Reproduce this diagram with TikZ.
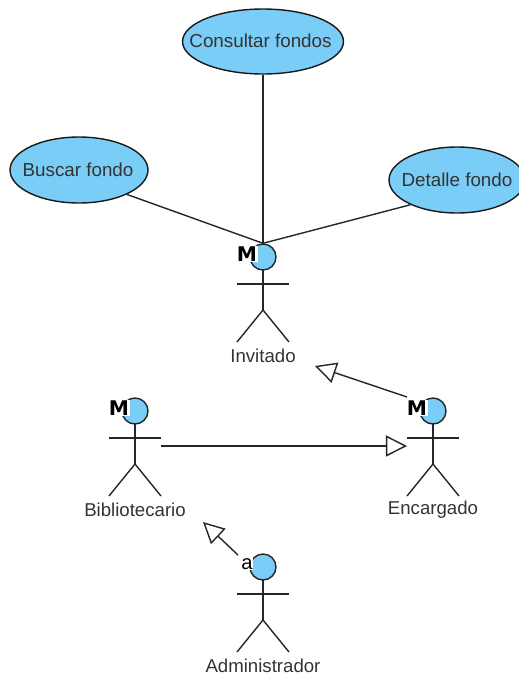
\documentclass[tikz,border=0pt]{standalone}
\usepackage{fontspec}
\setmainfont{Liberation Sans}
\newfontfamily\badgefont{DejaVu Sans}
\usetikzlibrary{shapes.geometric,arrows.meta}
\definecolor{usecaseblue}{HTML}{7ACDF6}
\definecolor{labelgray}{HTML}{333333}
\tikzset{
    usecase/.style={draw=black!90,fill=usecaseblue,ellipse,line width=0.8pt,inner sep=0pt},
    usecasetext/.style={font=\fontsize{10.7}{12}\selectfont,text=labelgray,inner sep=0pt},
    actorhead/.style={circle,draw=black!85,fill=usecaseblue,line width=0.8pt,minimum size=0.52cm,inner sep=0pt},
    actorline/.style={draw=black!85,line width=0.8pt},
    actorlabel/.style={font=\fontsize{10.6}{12}\selectfont,text=labelgray,inner sep=0pt},
    badge/.style={font=\fontsize{11.5}{12}\selectfont,inner sep=0.4pt,fill=white},
    assoc/.style={draw=black!85,line width=0.8pt},
    general/.style={draw=black!85,line width=0.8pt,-{Triangle[open,length=12pt,width=12pt,fill=white]}}
}
% actor: name, head x, head y, label, badge
\newcommand{\actor}[5]{
    \node[actorhead] (#1Head) at (#2,#3) {};
    \node[badge] (#1Badge) at (#2-16,#3-3) {#5};
    \coordinate (#1Neck) at (#2,#3+13);
    \coordinate (#1Arml) at (#2-26,#3+27);
    \coordinate (#1Armr) at (#2+26,#3+27);
    \coordinate (#1Hip) at (#2,#3+53);
    \coordinate (#1Footl) at (#2-26,#3+85);
    \coordinate (#1Footr) at (#2+26,#3+85);
    \draw[actorline] (#1Neck) -- (#1Hip);
    \draw[actorline] (#1Arml) -- (#1Armr);
    \draw[actorline] (#1Footl) -- (#1Hip) -- (#1Footr);
    \node[actorlabel] (#1Label) at (#2,#3+99) {#4};
}
\begin{document}
\begin{tikzpicture}[x=0.02cm,y=-0.02cm]
    \useasboundingbox (0,0) rectangle (518,677);

    % Use cases
    \node[usecase,minimum width=3.22cm,minimum height=1.3cm] (consultar) at (263,41.5) {};
    \node[usecase,minimum width=2.76cm,minimum height=1.32cm] (buscar) at (79,170) {};
    \node[usecase,minimum width=2.72cm,minimum height=1.32cm] (detalle) at (457,180) {};
    \node[usecasetext] (consultarText) at (260.5,41) {Consultar fondos};
    \node[usecasetext] (buscarText) at (78,170) {Buscar fondo};
    \node[usecasetext] (detalleText) at (457,180) {Detalle fondo};

    % Free ends of the generalizations
    \coordinate (encargadoOut) at (407,397);
    \coordinate (invitadoIn) at (315,366);
    \coordinate (bibliotecarioOut) at (161,446);
    \coordinate (encargadoIn) at (407,446);
    \coordinate (administradorOut) at (238,555);
    \coordinate (bibliotecarioIn) at (203,522);

    % Actors
    \actor{invitado}{263}{257}{Invitado}{\badgefont\bfseries M}
    \actor{bibliotecario}{135}{411}{Bibliotecario}{\badgefont\bfseries M}
    \actor{encargado}{433}{411}{Encargado}{\badgefont\bfseries M}
    \actor{administrador}{263}{567}{Administrador}{a}

    % Associations
    \draw[assoc] (buscar.-27) -- (invitadoHead.north);
    \draw[assoc] (consultar) -- (invitadoHead.north);
    \draw[assoc] (detalle.208) -- (invitadoHead.north);

    % Generalizations
    \draw[general] (encargadoOut) -- (invitadoIn);
    \draw[general] (bibliotecarioOut) -- (encargadoIn);
    \draw[general] (administradorOut) -- (bibliotecarioIn);
\end{tikzpicture}
\end{document}
